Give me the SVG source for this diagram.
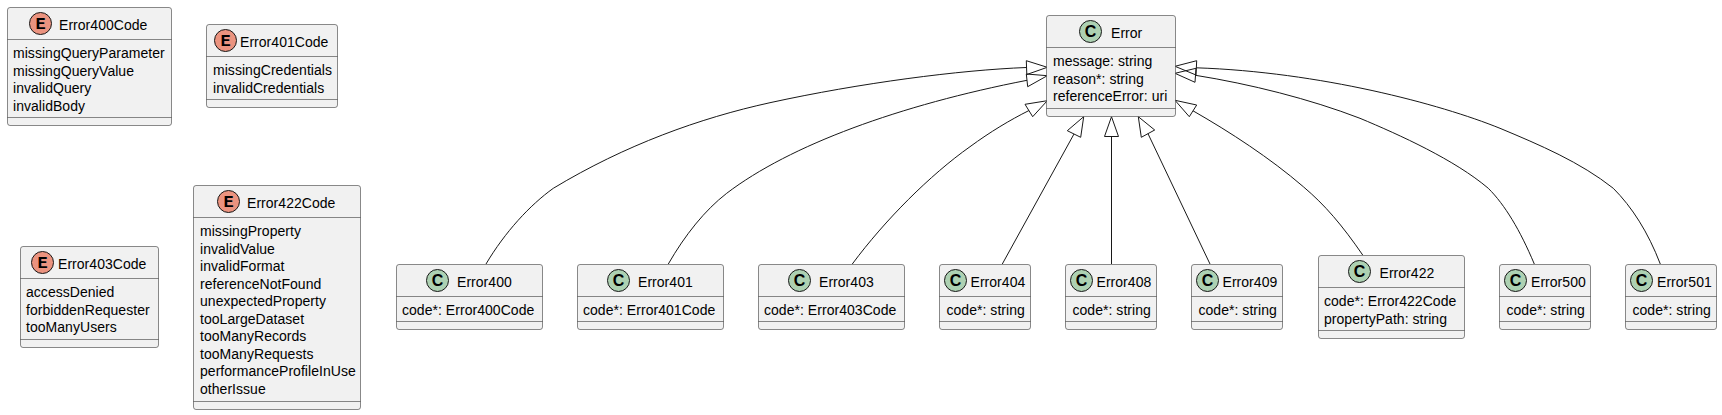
<svg xmlns="http://www.w3.org/2000/svg" width="1722" height="415" viewBox="0 0 1722 415">
<style>
text{font-family:"Liberation Sans",Arial,sans-serif;font-size:14px;fill:#000;letter-spacing:.04px}
.box{fill:#F1F1F1;stroke:#181818;stroke-width:.5}
.sep{stroke:#181818;stroke-width:.5;fill:none}
.c{fill:#ADD1B2;stroke:#181818;stroke-width:1}
.e{fill:#EB937F;stroke:#181818;stroke-width:1}
.gc{font-family:"Liberation Sans",sans-serif;font-weight:bold;font-size:16px;text-anchor:middle;letter-spacing:0}
.ge{font-family:"Liberation Mono",monospace;font-weight:bold;font-size:17px;text-anchor:middle;letter-spacing:0}
.edge{fill:none;stroke:#181818;stroke-width:1}
.head{fill:none;stroke:#181818;stroke-width:1}
</style>
<g id="connectors">
<path class="edge" d="M486,264 C505,232 530,205 553.3,188.3 C625,145 700,118 770,102.7 C860,83 960,70 1026.5,67.5"/>
<polygon class="head" points="1047.3,67.3 1026.3,60.7 1026.8,74.5"/>
<path class="edge" d="M668.3,264 C685,235 705,210 726.7,193.3 C790,145 900,105 1027,80.3"/>
<polygon class="head" points="1047.3,75.7 1026.3,74 1027.7,86.7"/>
<path class="edge" d="M852.3,264 C885,220 930,175 970,146.7 C990,132 1010,120 1029,110.5"/>
<polygon class="head" points="1047.3,100.7 1025,104.3 1032.7,116.7"/>
<path class="edge" d="M1002.3,264 L1074,134"/>
<polygon class="head" points="1083.7,116.7 1067.3,130.7 1080.7,137.3"/>
<path class="edge" d="M1111.5,264 L1111.5,136.5"/>
<polygon class="head" points="1111.5,116.7 1104.5,136.5 1118.5,136.5"/>
<path class="edge" d="M1210,264 L1148,133.7"/>
<polygon class="head" points="1138.3,116.7 1154.7,130 1141.3,137.3"/>
<path class="edge" d="M1362.7,255 C1342,225 1325,205 1303.3,186.7 C1270,158 1230,132 1193,110.8"/>
<polygon class="head" points="1175,100.3 1196.7,105 1189.3,116.7"/>
<path class="edge" d="M1534.3,264 C1520,230 1505,205 1488.3,188.3 C1455,160 1400,135 1360,118.3 C1310,99 1250,84 1195.5,75.3"/>
<polygon class="head" points="1175,73.3 1196,68.3 1195,82.3"/>
<path class="edge" d="M1660.3,264 C1648,232 1632,207 1613.3,188.3 C1580,162 1540,145 1500,128.3 C1440,104 1320,72 1196.3,67.8"/>
<polygon class="head" points="1175,66.3 1196.7,60.7 1196,75"/>
</g>
<g id="Error400Code">
<rect class="box" x="7.5" y="7.5" width="164" height="118" rx="2.5"/>
<path class="sep" d="M7.5,39.5H171.5M7.5,117.5H171.5"/>
<circle class="e" cx="40.5" cy="23.5" r="11"/><text class="ge" x="40.5" y="28.5">E</text>
<text x="59" y="29.5">Error400Code</text>
<text x="13" y="58">missingQueryParameter</text><text x="13" y="75.5">missingQueryValue</text><text x="13" y="93">invalidQuery</text><text x="13" y="110.5">invalidBody</text>
</g>
<g id="Error401Code">
<rect class="box" x="206.5" y="24.5" width="131" height="83" rx="2.5"/>
<path class="sep" d="M206.5,56.5H337.5M206.5,99.5H337.5"/>
<circle class="e" cx="225.5" cy="40.5" r="11"/><text class="ge" x="225.5" y="45.5">E</text>
<text x="240" y="46.5">Error401Code</text>
<text x="213" y="75">missingCredentials</text><text x="213" y="92.5">invalidCredentials</text>
</g>
<g id="Error403Code">
<rect class="box" x="20.5" y="246.5" width="138" height="101" rx="2.5"/>
<path class="sep" d="M20.5,278.5H158.5M20.5,339.5H158.5"/>
<circle class="e" cx="42.5" cy="262.5" r="11"/><text class="ge" x="42.5" y="267.5">E</text>
<text x="58" y="268.5">Error403Code</text>
<text x="26" y="297">accessDenied</text><text x="26" y="314.5">forbiddenRequester</text><text x="26" y="332">tooManyUsers</text>
</g>
<g id="Error422Code">
<rect class="box" x="193.5" y="185.5" width="167" height="224" rx="2.5"/>
<path class="sep" d="M193.5,217.5H360.5M193.5,401.5H360.5"/>
<circle class="e" cx="228.5" cy="201.5" r="11"/><text class="ge" x="228.5" y="206.5">E</text>
<text x="247" y="207.5">Error422Code</text>
<text x="200" y="236">missingProperty</text><text x="200" y="253.5">invalidValue</text><text x="200" y="271">invalidFormat</text><text x="200" y="288.5">referenceNotFound</text><text x="200" y="306">unexpectedProperty</text><text x="200" y="323.5">tooLargeDataset</text><text x="200" y="341">tooManyRecords</text><text x="200" y="358.5">tooManyRequests</text><text x="200" y="376">performanceProfileInUse</text><text x="200" y="393.5">otherIssue</text>
</g>
<g id="Error">
<rect class="box" x="1046.5" y="15.5" width="129" height="101" rx="2.5"/>
<path class="sep" d="M1046.5,47.5H1175.5M1046.5,108.5H1175.5"/>
<circle class="c" cx="1090.5" cy="31.5" r="11"/><text class="gc" x="1090.5" y="37">C</text>
<text x="1111" y="37.5">Error</text>
<text x="1053" y="66">message: string</text><text x="1053" y="83.5">reason*: string</text><text x="1053" y="101">referenceError: uri</text>
</g>
<g id="Error400">
<rect class="box" x="396.5" y="264.5" width="146" height="65" rx="2.5"/>
<path class="sep" d="M396.5,296.5H542.5M396.5,321.5H542.5"/>
<circle class="c" cx="437.5" cy="280.5" r="11"/><text class="gc" x="437.5" y="286">C</text>
<text x="457" y="286.5">Error400</text><text x="402" y="315">code*: Error400Code</text>
</g>
<g id="Error401">
<rect class="box" x="577.5" y="264.5" width="146" height="65" rx="2.5"/>
<path class="sep" d="M577.5,296.5H723.5M577.5,321.5H723.5"/>
<circle class="c" cx="618.5" cy="280.5" r="11"/><text class="gc" x="618.5" y="286">C</text>
<text x="638" y="286.5">Error401</text><text x="583" y="315">code*: Error401Code</text>
</g>
<g id="Error403">
<rect class="box" x="758.5" y="264.5" width="146" height="65" rx="2.5"/>
<path class="sep" d="M758.5,296.5H904.5M758.5,321.5H904.5"/>
<circle class="c" cx="799.5" cy="280.5" r="11"/><text class="gc" x="799.5" y="286">C</text>
<text x="819" y="286.5">Error403</text><text x="764" y="315">code*: Error403Code</text>
</g>
<g id="Error404">
<rect class="box" x="939.5" y="264.5" width="91" height="65" rx="2.5"/>
<path class="sep" d="M939.5,296.5H1030.5M939.5,321.5H1030.5"/>
<circle class="c" cx="955.5" cy="280.5" r="11"/><text class="gc" x="955.5" y="286">C</text>
<text x="970.5" y="286.5">Error404</text><text x="946.5" y="315">code*: string</text>
</g>
<g id="Error408">
<rect class="box" x="1065.5" y="264.5" width="91" height="65" rx="2.5"/>
<path class="sep" d="M1065.5,296.5H1156.5M1065.5,321.5H1156.5"/>
<circle class="c" cx="1081.5" cy="280.5" r="11"/><text class="gc" x="1081.5" y="286">C</text>
<text x="1096.5" y="286.5">Error408</text><text x="1072.5" y="315">code*: string</text>
</g>
<g id="Error409">
<rect class="box" x="1191.5" y="264.5" width="91" height="65" rx="2.5"/>
<path class="sep" d="M1191.5,296.5H1282.5M1191.5,321.5H1282.5"/>
<circle class="c" cx="1207.5" cy="280.5" r="11"/><text class="gc" x="1207.5" y="286">C</text>
<text x="1222.5" y="286.5">Error409</text><text x="1198.5" y="315">code*: string</text>
</g>
<g id="Error422">
<rect class="box" x="1318.5" y="255.5" width="146" height="83" rx="2.5"/>
<path class="sep" d="M1318.5,287.5H1464.5M1318.5,330.5H1464.5"/>
<circle class="c" cx="1359.5" cy="271.5" r="11"/><text class="gc" x="1359.5" y="277">C</text>
<text x="1379.5" y="277.5">Error422</text><text x="1324" y="306">code*: Error422Code</text><text x="1324" y="323.5">propertyPath: string</text>
</g>
<g id="Error500">
<rect class="box" x="1499.5" y="264.5" width="91" height="65" rx="2.5"/>
<path class="sep" d="M1499.5,296.5H1590.5M1499.5,321.5H1590.5"/>
<circle class="c" cx="1515.5" cy="280.5" r="11"/><text class="gc" x="1515.5" y="286">C</text>
<text x="1531" y="286.5">Error500</text><text x="1506.5" y="315">code*: string</text>
</g>
<g id="Error501">
<rect class="box" x="1625.5" y="264.5" width="91" height="65" rx="2.5"/>
<path class="sep" d="M1625.5,296.5H1716.5M1625.5,321.5H1716.5"/>
<circle class="c" cx="1641.5" cy="280.5" r="11"/><text class="gc" x="1641.5" y="286">C</text>
<text x="1657" y="286.5">Error501</text><text x="1632.5" y="315">code*: string</text>
</g>
</svg>
